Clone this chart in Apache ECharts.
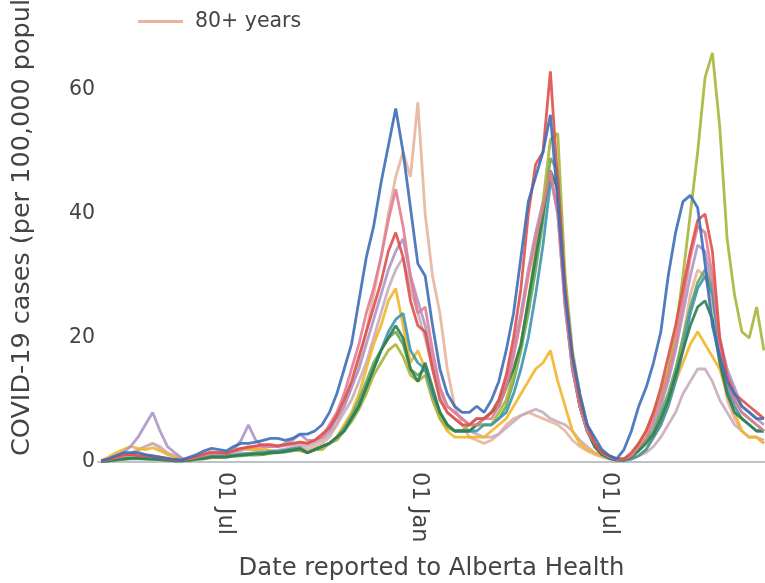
<!DOCTYPE html>
<html>
<head>
<meta charset="utf-8">
<script src="https://cdn.jsdelivr.net/npm/echarts@6/dist/echarts.min.js"></script>
<style>
html,body{margin:0;padding:0;background:#fff;}
#chart{width:765px;height:583px;}
</style>
</head>
<body>
<div id="chart"></div>
<script>
// Weekly report dates (Mar 5 2020 .. Nov 25 2021)
const dates = [];
for (let i = 0; i < 91; i++) dates.push(new Date(2020, 2, 5 + 7 * i).getTime());

const xTickDates = [new Date(2020, 6, 1).getTime(), new Date(2021, 0, 1).getTime(), new Date(2021, 6, 1).getTime()];
const yTicks = [0, 20, 40, 60];

const ageGroups = ['Under 1 year','1-4 years','5-9 years','10-19 years','20-29 years','30-39 years','40-49 years','50-59 years','60-69 years','70-79 years','80+ years'];

const under1 = [
 0.2,0.8,1.5,2,2.5,2.2,2,2.3,1.8,1.2,
 0.8,0.4,0.5,0.8,1.2,1.6,1.4,1.6,2,2.2,
 2,2,2.2,1.8,1.6,1.8,2,1.8,1.5,2,
 2.5,3,4,6,8,11,15,19,22,26,
 28,22,16,18,15,10,7,5,4,4,
 4,4,4,5,6,7,9,11,13,15,
 16,18,13,9,5,3,2,1.5,1,0.6,
 0.3,0.2,0.5,1,2,4,6,9,13,16,
 19,21,19,17,15,11,8,5,4,4,
 3];
const age1to4 = [
 0.1,0.2,0.4,0.5,0.6,0.6,0.5,0.5,0.4,0.3,
 0.2,0.2,0.3,0.5,0.6,0.8,0.8,0.8,1,1.1,
 1.2,1.3,1.3,1.5,1.5,1.7,1.9,2.1,1.5,2,
 2.5,3,4,5,7,9,12,15,18,20,
 22,20,15,13,16,12,8,6,5,5,
 5,6,7,8,9,12,15,19,26,33,
 40,47,44,26,15,9,5,2.5,1.2,0.6,
 0.3,0.4,0.8,1.8,3,4.5,7,10,14,18,
 22,25,26,23,16,11,8,7,6,5,
 5];
const age5to9 = [
 0.1,0.2,0.3,0.4,0.5,0.5,0.5,0.4,0.4,0.3,
 0.2,0.2,0.3,0.4,0.5,0.7,0.7,0.8,0.9,1,
 1.1,1.1,1.2,1.4,1.5,1.6,1.8,2,1.5,2,
 2.5,3,4,5.5,7.5,10,13,16,18,20,
 21,19,15,14,15,11,8,6,5,5,
 5,6,6,6,7,9,13,18,24,31,
 39,49,47,27,16,9,5,3,1.5,0.8,
 0.4,0.5,1,2,3.5,5,8,11,15,20,
 25,29,31,28,19,13,10,8,7,6,
 5];
const age10to19 = [
 0.1,0.2,0.3,0.5,0.6,0.6,0.5,0.5,0.4,0.3,
 0.2,0.2,0.3,0.4,0.6,0.8,0.8,0.9,1,1.1,
 1.2,1.2,1.3,1.5,1.6,1.8,2,2.2,1.5,2,
 2,3,3.5,5,6.5,8.5,11,14,16,18,
 19,17,14,13,14,10,7,5.5,5,5,
 6,6,6,6,8,10,14,19,26,34,
 42,52,53,30,18,11,6,3,1.5,1,
 0.5,0.5,1,3,5,8,11,15,21,30,
 40,50,62,66,54,36,27,21,20,25,
 18];
const age20to29 = [
 0.2,0.5,1,1.5,1.5,1.5,1.2,1,0.8,0.6,
 0.4,0.3,0.8,1.2,1.8,2.2,2,1.8,2.5,3,
 3,3.2,3.5,3.8,3.8,3.5,3.8,4.5,4.5,5,
 6,8,11,15,19,26,33,38,45,51,
 57,50,41,32,30,22,15,11,9,8,
 8,9,8,10,13,18,24,33,42,46,
 50,56,42,27,17,11,6,4,2,1,
 0.5,2,5,9,12,16,21,30,37,42,
 43,41,32,22,17,13,11,9,8,7,
 7];
const age30to39 = [
 0.2,0.4,0.8,1.2,1.2,1,1,0.9,0.7,0.5,
 0.3,0.3,0.6,0.9,1.3,1.6,1.5,1.4,1.8,2.2,
 2.4,2.6,2.8,2.8,2.6,2.8,3,3.2,3,3.5,
 4.5,5.5,7.5,10,13,17,21,25,29,34,
 37,33,26,22,21,15,10,8,7,6,
 6,7,7,8,10,14,20,28,40,48,
 50,63,45,28,17,10,6,3,1.5,1,
 0.5,0.5,1.5,3,5,8,12,17,22,28,
 34,39,40,34,20,14,11,10,9,8,
 7];
const age40to49 = [
 0.2,0.4,0.7,1,1.2,1.2,1.1,1,0.8,0.6,
 0.4,0.3,0.5,0.8,1.1,1.4,1.4,1.5,1.8,2.1,
 2.3,2.5,2.6,2.6,2.5,2.7,2.9,3.2,3,3.5,
 4,6,8,11,15,19,24,28,33,39,
 44,38,30,24,25,18,12,9,8,7,
 6,6,7,7,9,12,17,23,30,36,
 41,47,40,25,15,9,5,3,1.5,0.8,
 0.4,0.5,1,2.5,4,7,10,14,19,26,
 33,38,37,30,19,13,10,8,7,6,
 5];
const age50to59 = [
 0.1,0.2,0.4,0.6,0.7,0.7,0.6,0.5,0.5,0.4,
 0.3,0.2,0.3,0.5,0.7,0.9,0.9,1,1.1,1.3,
 1.4,1.5,1.5,1.7,1.7,1.9,2.1,2.3,1.5,2,
 2.5,3,4,5,7,9,12,15,18,21,
 23,24,18,16,15,11,8,6,5,5,
 5,5,6,6,7,8,11,15,20,27,
 35,45,46,27,16,9,5,2.5,1.2,0.6,
 0.3,0.2,0.5,1,2,4,6,9,13,18,
 24,28,30,27,18,12,9,7,6,5,
 5];
const age60to69 = [
 0.2,0.5,1,1.5,2.5,4,6,8,5,2.5,
 1.5,0.6,0.5,0.8,1,1.2,1.5,1.5,2,3.5,
 6,3.5,2.5,2.5,2.5,3,3.5,4.5,3.5,3.5,
 4,5,7,9,12,15,19,23,27,31,
 34,36,30,26,22,16,12,9,8,7,
 6,7,7,8,10,13,18,24,31,37,
 42,46,40,25,15,9,5,3,1.5,0.8,
 0.4,0.3,1,2,3.5,6,9,13,18,24,
 30,35,34,28,20,15,12,9,8,7,
 6];
const age70to79 = [
 0.1,0.3,0.6,1,1.4,2,2.5,3,2.2,1.4,
 0.9,0.5,0.4,0.6,0.8,1,1.2,1.3,1.6,2,
 2.5,2,1.8,1.8,1.9,2.1,2.4,2.8,2.5,3,
 3.5,4.5,6,8,10,13,16,20,24,28,
 31,33,28,24,20,15,11,8,7,6,
 5,4.5,4,4,4.5,5.5,6.5,7.5,8,8.5,
 8,7,6.5,6,5,3.5,2.5,1.5,1,0.6,
 0.3,0.3,0.5,1,1.5,2.5,4,6,8,11,
 13,15,15,13,10,8,6,5,4,4,
 3.5];
const age80plus = [
 0.1,0.3,0.5,0.8,1.2,1.8,2.5,3,2.5,1.5,
 1,0.5,0.4,0.5,0.7,0.9,1,1.2,1.5,1.8,
 2.2,2,1.8,1.7,1.8,2,2.2,2.5,2,2.5,
 3,4,6,9,12,16,21,27,33,40,
 46,50,46,58,40,30,24,15,9,6,
 4,3.5,3,3.5,4.5,6,7,7.5,8,7.5,
 7,6.5,6,5,3.5,2.5,1.8,1.2,0.8,0.5,
 0.3,0.3,0.5,1,2,4,6,10,14,20,
 27,31,30,25,17,10,7,5,4,4,
 3];

const seriesValues = [under1, age1to4, age5to9, age10to19, age20to29, age30to39, age40to49, age50to59, age60to69, age70to79, age80plus];
const seriesColors = ['#f2b62b','#2f7d4f','#66aa5a','#a9b53a','#3d6fb8','#e0504a','#e27d93','#3f95b3','#ad95c8','#c8adbd','#e8b49c'];
const drawOrder = [10, 9, 0, 8, 2, 3, 7, 1, 6, 5, 4];

const months = ['Jan','Feb','Mar','Apr','May','Jun','Jul','Aug','Sep','Oct','Nov','Dec'];
const FONT = 'DejaVu Sans';

const series = drawOrder.map(k => ({
  name: ageGroups[k],
  type: 'line',
  symbol: 'none',
  data: dates.map((d, i) => [d, seriesValues[k][i]]),
  lineStyle: { width: 2.8, color: seriesColors[k], opacity: 0.9 },
  itemStyle: { color: seriesColors[k] },
  emphasis: { disabled: true }
}));

const chart = echarts.init(document.getElementById('chart'), null, { renderer: 'canvas' });
chart.setOption({
  animation: false,
  backgroundColor: '#ffffff',
  grid: { left: 98, right: 0, top: 28, bottom: 121, containLabel: false, outerBoundsMode: 'none' },
  legend: {
    data: ['80+ years'],
    icon: 'rect',
    left: 133, top: 6,
    itemWidth: 45, itemHeight: 3,
    textStyle: { fontFamily: FONT, fontSize: 20.5, color: '#444', padding: [0, 0, 0, 7] }
  },
  xAxis: {
    type: 'value',
    min: new Date(2020, 2, 2).getTime(),
    max: new Date(2021, 10, 26).getTime(),
    name: 'Date reported to Alberta Health',
    nameLocation: 'middle',
    nameGap: 95,
    nameTextStyle: { fontFamily: FONT, fontSize: 24.3, color: '#444' },
    axisLine: { show: true, lineStyle: { color: '#a9adb8', width: 1.5 } },
    axisTick: { show: false },
    splitLine: { show: false },
    axisLabel: {
      customValues: xTickDates,
      rotate: -90,
      margin: 10,
      fontFamily: FONT, fontSize: 22.5, color: '#444',
      formatter: v => { const d = new Date(v); return String(d.getDate()).padStart(2, '0') + ' ' + months[d.getMonth()]; }
    }
  },
  yAxis: {
    type: 'value',
    min: 0, max: 70, interval: 20,
    axisLine: { show: false },
    axisTick: { show: false },
    splitLine: { show: false },
    axisLabel: {
      margin: 3,
      fontFamily: FONT, fontSize: 20.5, color: '#444',
      formatter: v => (yTicks.indexOf(v) >= 0 ? String(v) : '')
    }
  },
  graphic: [{
    type: 'text',
    x: 22, y: 456,
    rotation: Math.PI / 2,
    style: {
      text: 'COVID-19 cases (per 100,000 population)',
      font: '25.5px "DejaVu Sans"',
      fill: '#444',
      align: 'left',
      verticalAlign: 'middle'
    }
  }],
  series: series
});
</script>
</body>
</html>
